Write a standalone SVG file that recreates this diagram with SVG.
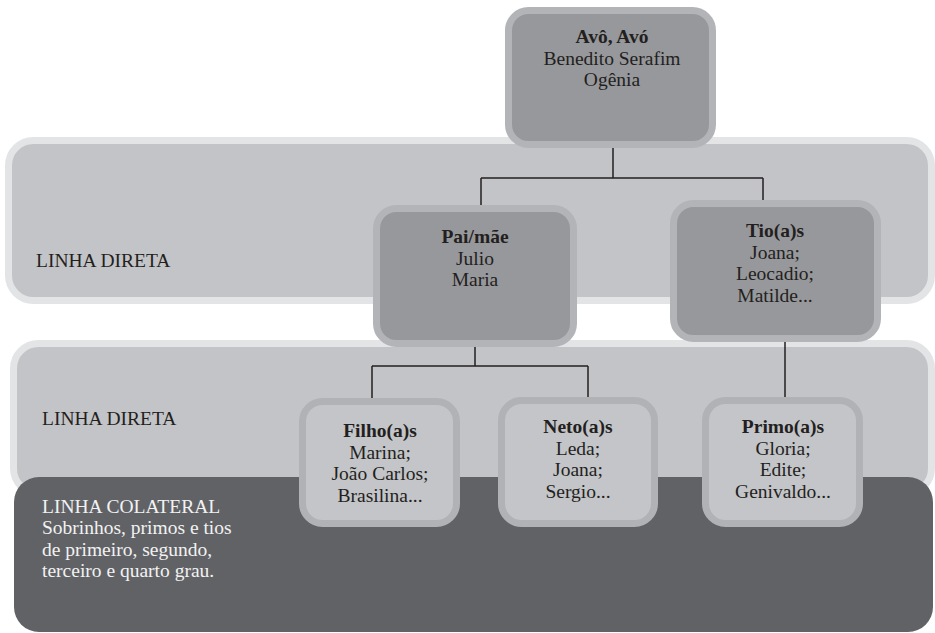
<svg xmlns="http://www.w3.org/2000/svg" width="935" height="633" viewBox="0 0 935 633">
<style>
.band{fill:#c3c4c7;stroke:#e3e4e6;stroke-width:7}
.dk{fill:#97989b;stroke:#b2b4b7;stroke-width:7}
.lt{fill:#c4c5c8;stroke:#b0b2b5;stroke-width:7}
.t{font-family:"Liberation Serif","Times New Roman",serif;font-size:19.5px;fill:#231f20}
.c{text-anchor:middle}
.b{font-weight:bold}
.w{fill:#f2f2f2}
.ln{stroke:#231f20;stroke-width:1.5;fill:none}
</style>
<rect width="935" height="633" fill="#ffffff"/>
<g id="band1"><rect class="band" x="8.5" y="140.5" width="923" height="160" rx="25"/><text class="t" x="36" y="267">LINHA DIRETA</text></g>
<g id="band2"><rect class="band" x="13.5" y="343.5" width="918" height="150" rx="25"/><text class="t" x="42" y="425">LINHA DIRETA</text></g>
<g id="band3"><rect x="14" y="477" width="919" height="155" rx="25" fill="#616266"/>
<text class="t w" x="42" y="513">LINHA COLATERAL</text>
<text class="t w" x="42" y="534">Sobrinhos, primos e tios</text>
<text class="t w" x="42" y="555.5">de primeiro, segundo,</text>
<text class="t w" x="42" y="577">terceiro e quarto grau.</text></g>
<g id="connectors">
<path class="ln" d="M613,148V178M481,178H763M481,178V205M763,178V200"/>
<path class="ln" d="M475,347V366M372,366H588M372,366V398M588,366V397"/>
<path class="ln" d="M785,342V397"/>
</g>
<g id="avo"><rect class="dk" x="508.5" y="10.5" width="204" height="134" rx="20"/>
<text class="t c"><tspan class="b" x="612" y="43">Avô, Avó</tspan><tspan x="612" y="64.5">Benedito Serafim</tspan><tspan x="612" y="86">Ogênia</tspan></text></g>
<g id="pai"><rect class="dk" x="376.5" y="208.5" width="197" height="135" rx="20"/>
<text class="t c"><tspan class="b" x="475" y="243">Pai/mãe</tspan><tspan x="475" y="264.5">Julio</tspan><tspan x="475" y="286">Maria</tspan></text></g>
<g id="tio"><rect class="dk" x="673.5" y="203.5" width="204" height="135" rx="20"/>
<text class="t c"><tspan class="b" x="775" y="237">Tio(a)s</tspan><tspan x="775" y="258.5">Joana;</tspan><tspan x="775" y="280">Leocadio;</tspan><tspan x="775" y="301.5">Matilde...</tspan></text></g>
<g id="filho"><rect class="lt" x="302.5" y="401.5" width="154" height="122" rx="20"/>
<text class="t c"><tspan class="b" x="380" y="437">Filho(a)s</tspan><tspan x="380" y="458.5">Marina;</tspan><tspan x="380" y="480">João Carlos;</tspan><tspan x="380" y="501.5">Brasilina...</tspan></text></g>
<g id="neto"><rect class="lt" x="501.5" y="400.5" width="153" height="123" rx="20"/>
<text class="t c"><tspan class="b" x="578" y="433">Neto(a)s</tspan><tspan x="578" y="454.5">Leda;</tspan><tspan x="578" y="476">Joana;</tspan><tspan x="578" y="497.5">Sergio...</tspan></text></g>
<g id="primo"><rect class="lt" x="705.5" y="400.5" width="154" height="123" rx="20"/>
<text class="t c"><tspan class="b" x="783" y="433">Primo(a)s</tspan><tspan x="783" y="454.5">Gloria;</tspan><tspan x="783" y="476">Edite;</tspan><tspan x="783" y="497.5">Genivaldo...</tspan></text></g>
</svg>
